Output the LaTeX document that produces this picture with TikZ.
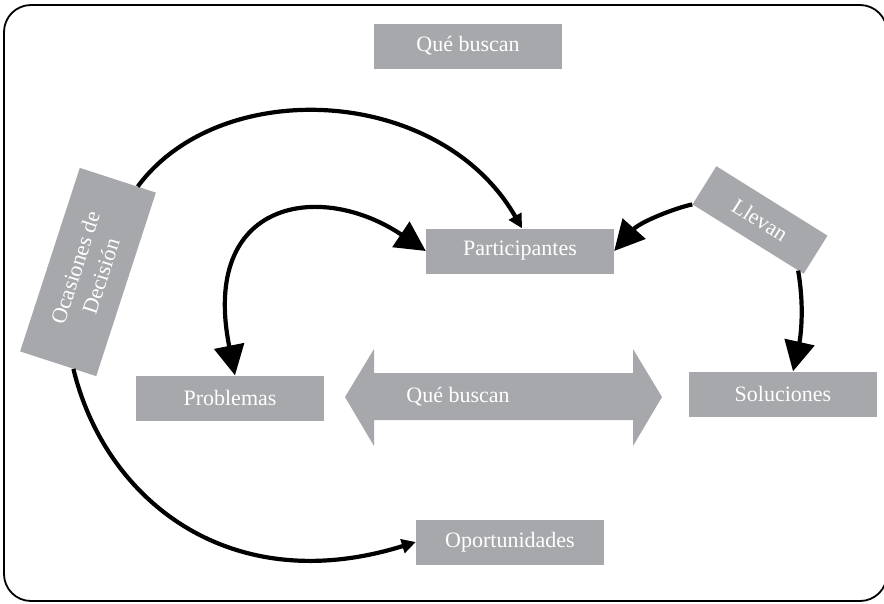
\documentclass[tikz,border=0pt]{standalone}
\usepackage{fontspec}
\setmainfont{Liberation Serif}
\usetikzlibrary{arrows.meta, calc}
\definecolor{boxgray}{RGB}{167,168,172}

\begin{document}
\begin{tikzpicture}[
    x=1pt, y=-1pt,
    box/.style={fill=boxgray, text=white, minimum width=188pt, minimum height=45pt, inner sep=0pt, font=\fontsize{22}{27}\selectfont},
    bigarrow/.style={-{Triangle[length=30pt, width=30pt]}, line width=4.2pt},
    bigboth/.style={{Triangle[length=30pt, width=30pt]}-{Triangle[length=30pt, width=30pt]}, line width=4.2pt},
    smallarrow/.style={-{Triangle[length=14pt, width=14pt]}, line width=4.2pt}
]
    \useasboundingbox (0,0) rectangle (884,603);
    % frame
    \begin{scope}
        \clip (0,0) rectangle (884,603);
        \draw[line width=1.8pt, rounded corners=27pt] (4,5) rectangle (887,601);
    \end{scope}

    % boxes
    \node[box] (qbtop) at (468,46) {Qué buscan};
    \node[box, rotate=72, minimum width=193pt, minimum height=80pt, align=center] (ocas) at (88,272) {Ocasiones de\\Decisión};
    \node[box] (part) at (520,251) {Participantes};
    \node[box, rotate=-32, minimum width=131pt] (llevan) at (760,220) {Llevan};
    \node[box] (prob) at (230,398) {Problemas};
    \node[box] (sol) at (783,394) {Soluciones};
    \node[box] (opor) at (510,542) {Oportunidades};

    % double arrow in the middle
    \fill[boxgray] (345,397) -- (374,349) -- (374,373) -- (633,373) -- (633,349) -- (662,397)
        -- (633,446) -- (633,420) -- (374,420) -- (374,446) -- cycle;
    \node[box, fill=none, minimum width=0pt] (qbmid) at (458,397) {Qué buscan};

    % connections
    \draw[smallarrow] ($(ocas.north east)!0.76!(ocas.south east)$) .. controls (220,75) and (440,85) .. ([xshift=2pt]part.north);
    \draw[bigboth] ([xshift=5pt]prob.north) .. controls (200,200) and (320,180) .. (part.west);
    \draw[bigarrow] (llevan.south west) .. controls (675,208) and (640,222) .. (part.east);
    \draw[bigarrow] ($(llevan.south east)!0.05!(llevan.south west)$) .. controls (805,310) and (800,340) .. ([xshift=10pt]sol.north);
    \draw[smallarrow] ($(ocas.north west)!0.7!(ocas.south west)$) .. controls (105,500) and (230,600) .. (opor.west);
\end{tikzpicture}
\end{document}
